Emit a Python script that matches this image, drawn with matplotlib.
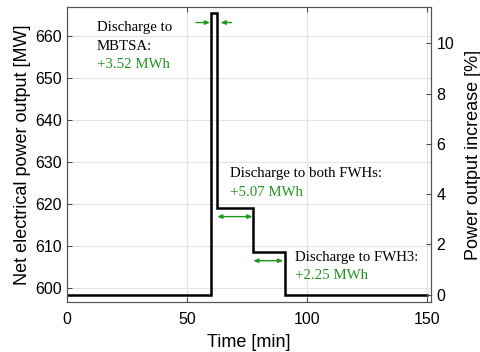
import matplotlib
matplotlib.use("Agg")
import matplotlib.pyplot as plt

# ---- data ----
time_min = [0, 60, 60, 62.5, 62.5, 77.5, 77.5, 91, 91, 150]
power_mw = [598.4, 598.4, 665.5, 665.5, 619.0, 619.0, 608.6, 608.6, 598.4, 598.4]
base_mw = 598.4

x_ticks = [0, 50, 100, 150]
y_ticks = [600, 610, 620, 630, 640, 650, 660]
y2_ticks = [0, 2, 4, 6, 8, 10]

labels_black = [("Discharge to", 12.4, 661.3), ("MBTSA:", 12.4, 656.7),
                ("Discharge to both FWHs:", 67.9, 626.4),
                ("Discharge to FWH3:", 95.0, 606.5)]
labels_green = [("+3.52 MWh", 12.4, 652.4), ("+5.07 MWh", 67.9, 621.9),
                ("+2.25 MWh", 95.0, 602.1)]

# arrows: (x_start, x_end, y, style)
arrows = [(53.75, 59.6, 663.2, '-|>'), (68.6, 64.0, 663.2, '-|>'),
          (62.6, 77.3, 617.0, '<|-|>'), (77.6, 90.1, 606.5, '<|-|>')]

green = '#1f961f'
sans = 'Liberation Sans'
serif = 'Liberation Serif'

fig = plt.figure(figsize=(4.81, 3.52), dpi=100)
ax = fig.add_axes([67/481, 50/352, (431-67)/481, (302-7)/352])

ax.plot(time_min, power_mw, color='black', lw=1.8, solid_joinstyle='miter')
ax.set_xlim(0, 151.7)
ylo, yhi = 596.67, 666.9
ax.set_ylim(ylo, yhi)
ax.set_xticks(x_ticks)
ax.set_yticks(y_ticks)
ax.grid(True, color='#e3e3e3', lw=0.8)
ax.set_axisbelow(True)
ax.tick_params(direction='in', length=3.5, width=0.7, color='#444444',
               labelsize=11.5, top=True)
ax.tick_params(axis='x', pad=7.5)
ax.tick_params(axis='y', pad=3.5)
for lab in ax.get_xticklabels() + ax.get_yticklabels():
    lab.set_fontfamily(sans)
for s in ax.spines.values():
    s.set_color('#555555')
    s.set_linewidth(0.8)
ax.set_xlabel("Time [min]", fontfamily=sans, fontsize=13, labelpad=5)
ax.set_ylabel("Net electrical power output [MW]", fontfamily=sans, fontsize=13, labelpad=3)

ax2 = ax.twinx()
ax2.set_ylim((ylo - base_mw) / base_mw * 100, (yhi - base_mw) / base_mw * 100)
ax2.set_yticks(y2_ticks)
ax2.tick_params(direction='in', length=3.5, width=0.7, color='#444444',
                labelsize=11.5, pad=4)
for lab in ax2.get_yticklabels():
    lab.set_fontfamily(sans)
for s in ax2.spines.values():
    s.set_color('#555555')
    s.set_linewidth(0.8)
ax2.set_ylabel("Power output increase [%]", fontfamily=sans, fontsize=13, labelpad=7.5)

for t, x, y in labels_black:
    ax.text(x, y, t, fontfamily=serif, fontsize=10.7, color='black', va='baseline', ha='left')
for t, x, y in labels_green:
    ax.text(x, y, t, fontfamily=serif, fontsize=10.7, color=green, va='baseline', ha='left')

for x0, x1, y, st in arrows:
    ax.annotate('', xy=(x1, y), xytext=(x0, y),
                arrowprops=dict(arrowstyle=st + ',head_length=0.35,head_width=0.15',
                                color=green, lw=1.0, shrinkA=0, shrinkB=0,
                                mutation_scale=8))

fig.savefig("out.png", dpi=100)
